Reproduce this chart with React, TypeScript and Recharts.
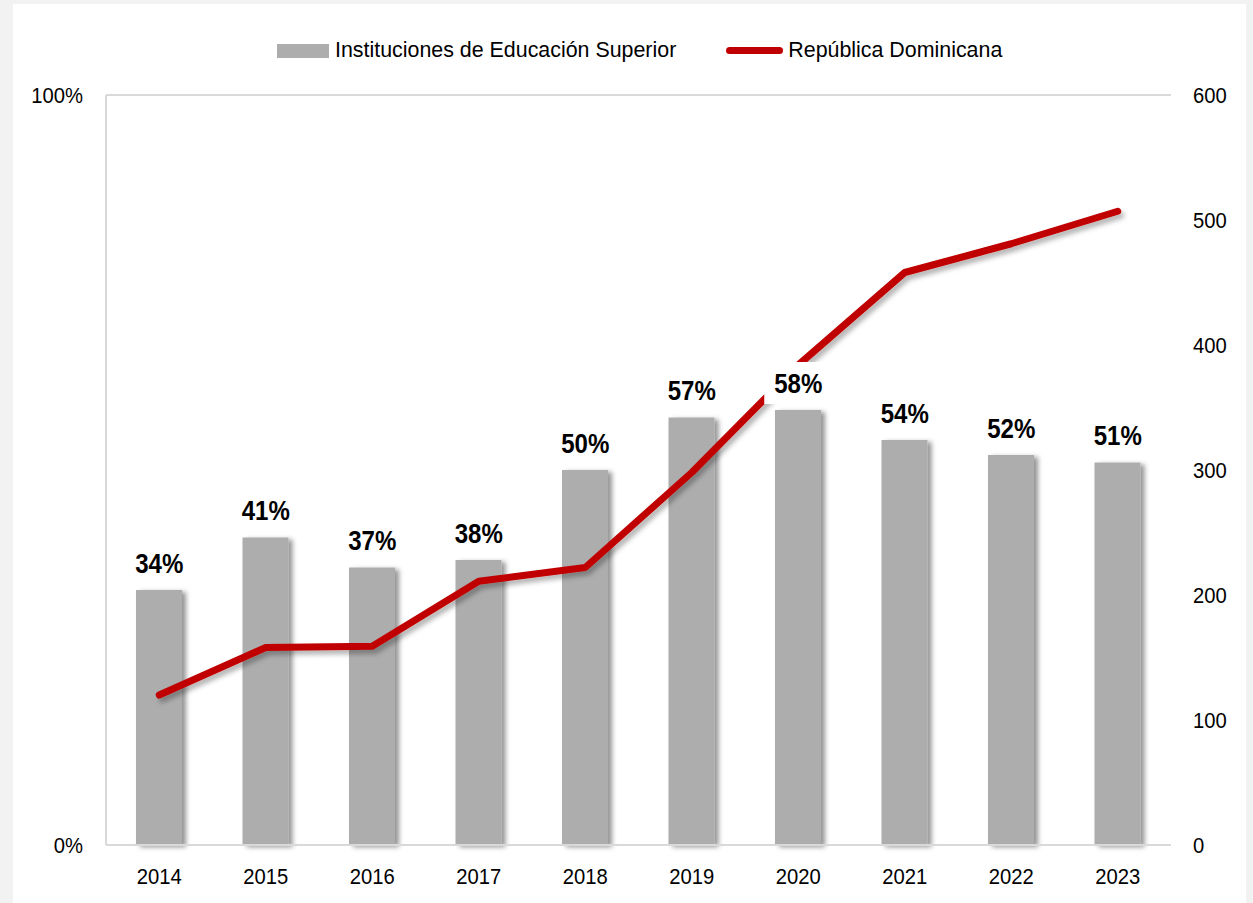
import React from "react"
import { ComposedChart, Bar, Line, XAxis, YAxis, CartesianGrid, LabelList } from "recharts"

const years = ["2014", "2015", "2016", "2017", "2018", "2019", "2020", "2021", "2022", "2023"]
const iesShare = [34, 41, 37, 38, 50, 57, 58, 54, 52, 51]
const rdValues = [120, 158, 159, 211, 222, 298, 384, 458, 481, 507]
const leftTicks = [0, 100]
const rightTicks = [0, 100, 200, 300, 400, 500, 600]

const data = years.map((year, i) => ({ year, ies: iesShare[i], rd: rdValues[i] }))

const FONT = "'Liberation Sans', Arial, sans-serif"
const BAR_COLOR = "#adadad"
const LINE_COLOR = "#c00000"

const BarShape = (props: any) => {
  const { x, y, width, height } = props
  if (!height || height <= 0) return null
  return <rect x={x} y={y} width={width} height={height} fill={BAR_COLOR} filter="url(#barShadow)" />
}

const ValueLabel = (props: any) => {
  const { x, y, value } = props
  if (x == null || y == null) return null
  const cy = y - 27
  return (
    <g>
      <rect x={x - 34} y={cy - 21} width={68} height={42} fill="#ffffff" />
      <text
        transform={`translate(${x},${cy}) scale(0.86,1)`}
        textAnchor="middle"
        dominantBaseline="central"
        fontFamily={FONT}
        fontWeight="bold"
        fontSize={28}
        fill="#000"
      >
        {value}%
      </text>
    </g>
  )
}

// narrow tick text, anchored like the default tick
const NarrowTick = (props: any) => {
  const { x, y, payload, textAnchor, formatter } = props
  const label = formatter ? formatter(payload.value) : payload.value
  return (
    <text
      transform={`translate(${x},${y}) scale(0.92,1)`}
      textAnchor={textAnchor}
      dominantBaseline="central"
      fontFamily={FONT}
      fontSize={22}
      fill="#000"
    >
      {label}
    </text>
  )
}

export default function App() {
  return (
    <div style={{ position: "fixed", left: 0, top: 0, width: 1253, height: 903, background: "#f2f2f2", fontFamily: FONT }}>
      <div style={{ position: "absolute", left: 13, top: 4, width: 1233, height: 899, background: "#ffffff" }}>
        <div style={{ position: "absolute", left: 264, top: 34, display: "flex", alignItems: "center", fontSize: 21.4, color: "#000", whiteSpace: "nowrap" }}>
          <span style={{ display: "inline-block", width: 52, height: 14, background: BAR_COLOR, marginRight: 6 }} />
          <span>Instituciones de Educación Superior</span>
          <span style={{ display: "inline-block", width: 57, height: 7, borderRadius: 4, background: LINE_COLOR, marginLeft: 50, marginRight: 5 }} />
          <span>República Dominicana</span>
        </div>
        <ComposedChart width={1233} height={899} data={data} margin={{ top: 91, right: 0, bottom: 0, left: 0 }}>
          <defs>
            <filter id="barShadow" x="-30%" y="-10%" width="160%" height="130%">
              <feDropShadow dx={4} dy={2} stdDeviation={2.5} floodColor="#000" floodOpacity={0.42} />
            </filter>
            <filter id="lineShadow" x="-10%" y="-10%" width="120%" height="130%">
              <feDropShadow dx={3} dy={4} stdDeviation={2.5} floodColor="#000" floodOpacity={0.3} />
            </filter>
          </defs>
          <CartesianGrid yAxisId="left" vertical={false} stroke="#d9d9d9" strokeWidth={2} />
          <XAxis
            dataKey="year"
            height={58}
            tickSize={0}
            tickMargin={31}
            axisLine={{ stroke: "#d9d9d9", strokeWidth: 2 }}
            tick={<NarrowTick />}
          />
          <YAxis
            yAxisId="left"
            orientation="left"
            width={93}
            domain={[0, 100]}
            ticks={leftTicks}
            tickSize={0}
            tickMargin={23}
            axisLine={{ stroke: "#d9d9d9", strokeWidth: 2 }}
            tick={<NarrowTick formatter={(v: number) => `${v}%`} />}
          />
          <YAxis
            yAxisId="right"
            orientation="right"
            width={75}
            domain={[0, 600]}
            ticks={rightTicks}
            tickSize={0}
            tickMargin={22}
            axisLine={false}
            tick={<NarrowTick />}
          />
          <Bar yAxisId="left" dataKey="ies" barSize={46} shape={<BarShape />} isAnimationActive={false} />
          <Line
            yAxisId="right"
            dataKey="rd"
            type="linear"
            stroke={LINE_COLOR}
            strokeWidth={7}
            strokeLinecap="round"
            strokeLinejoin="round"
            dot={false}
            activeDot={false}
            filter="url(#lineShadow)"
            isAnimationActive={false}
          />
          <Line
            yAxisId="left"
            dataKey="ies"
            stroke="none"
            dot={false}
            activeDot={false}
            isAnimationActive={false}
          >
            <LabelList dataKey="ies" content={<ValueLabel />} />
          </Line>
        </ComposedChart>
      </div>
    </div>
  )
}
